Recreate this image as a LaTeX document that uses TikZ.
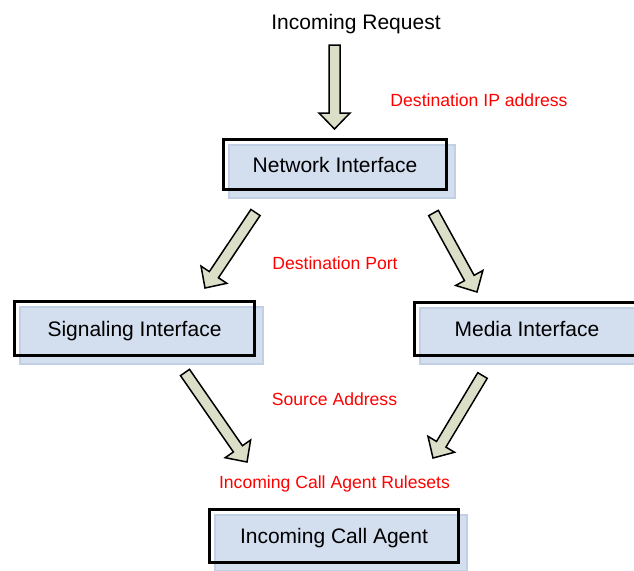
\documentclass[tikz,border=0pt]{standalone}
\usepackage{fontspec}
\setmainfont{Liberation Sans}
\usetikzlibrary{calc,backgrounds}

\definecolor{boxblue}{HTML}{D3DEEF}
\definecolor{boxedge}{HTML}{C2D0E6}
\definecolor{arrowfill}{HTML}{DCDFC8}

\tikzset{
  panel/.style={draw=black, line width=3pt, inner sep=0pt,
    text height=15pt, text depth=0pt,
    font=\fontsize{21}{25}\selectfont},
  panelshade/.style={fill=boxblue, draw=boxedge, line width=1.2pt},
  headtext/.style={inner sep=0pt, anchor=base, font=\fontsize{21}{25}\selectfont},
  note/.style={inner sep=0pt, anchor=base, text=red, font=\fontsize{17.6}{21}\selectfont},
  arrowbody/.style={fill=arrowfill, draw=black, line width=1.5pt, line join=miter},
}

% thick block arrow from a named tail coordinate to a named tip coordinate
\newcommand\blockarrow[2]{%
  \coordinate (#1-neck) at ($(#2)!16pt!(#1)$);
  \draw[arrowbody]
    ($(#1)!5.5pt!90:(#2)$) -- ($(#1-neck)!5.5pt!90:(#2)$)
    -- ($(#1-neck)!15.5pt!90:(#2)$) -- (#2)
    -- ($(#1-neck)!15.5pt!-90:(#2)$) -- ($(#1-neck)!5.5pt!-90:(#2)$)
    -- ($(#1)!5.5pt!-90:(#2)$) -- cycle;
}

% light blue plate sitting just behind a framed box
\newcommand\plate[1]{%
  \begin{scope}[on background layer]
    \draw[panelshade] ($(#1.north west)+(7,7)$) rectangle ($(#1.south east)+(7,7)$);
  \end{scope}
}

\begin{document}
\begin{tikzpicture}[x=1pt, y=-1pt]
  \useasboundingbox (0,0) rectangle (634,570);

  % boxes
  \node[panel, minimum width=223pt, minimum height=50pt] (net) at (335,164.5) {Network Interface};
  \node[panel, minimum width=240pt, minimum height=54pt] (sig) at (134.5,328.5) {Signaling Interface};
  \node[panel, minimum width=225pt, minimum height=53pt] (med) at (527,329) {Media Interface};
  \node[panel, minimum width=249pt, minimum height=53pt] (ica) at (334,536) {Incoming Call Agent};
  \plate{net}
  \plate{sig}
  \plate{med}
  \plate{ica}

  % texts
  \node[headtext] (req) at (356,29.3) {Incoming Request};
  \node[note] (dip)  at (479,106) {Destination IP address};
  \node[note] (dport) at (335,269.3) {Destination Port};
  \node[note] (src)  at (334.5,405) {Source Address};
  \node[note] (rules) at (334.5,488) {Incoming Call Agent Rulesets};

  % arrow ends
  \coordinate (a1) at (334.5,45);    \coordinate (a1tip) at (334.5,129);
  \coordinate (a2) at (255.5,212.5); \coordinate (a2tip) at (205,288);
  \coordinate (a3) at (433.5,213);   \coordinate (a3tip) at (477,292);
  \coordinate (a4) at (185,372.5);   \coordinate (a4tip) at (247,462);
  \coordinate (a5) at (482.5,375.5); \coordinate (a5tip) at (433,458);

  \blockarrow{a1}{a1tip}
  \blockarrow{a2}{a2tip}
  \blockarrow{a3}{a3tip}
  \blockarrow{a4}{a4tip}
  \blockarrow{a5}{a5tip}
\end{tikzpicture}
\end{document}
